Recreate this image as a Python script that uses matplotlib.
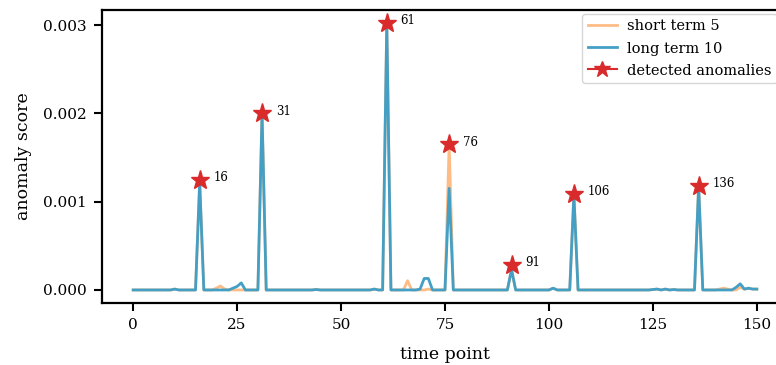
import numpy as np
import matplotlib
matplotlib.use("Agg")
import matplotlib.pyplot as plt
from matplotlib.lines import Line2D

plt.rcParams['font.family'] = ['DejaVu Serif']

# anomaly scores, one value per time point (0..150)
short_term = [
    0, 0, 0, 0, 0, 0, 0, 0, 0, 0,                       # 0-9
    0.00001, 0, 0, 0, 0, 0, 0.00122, 0, 0, 0,           # 10-19
    0.00002, 0.000045, 0.00001, 0, 0, 0, 0, 0, 0, 0,    # 20-29
    0, 0.00200, 0, 0, 0, 0, 0, 0, 0, 0,                 # 30-39
    0, 0, 0, 0, 0.000005, 0, 0, 0, 0, 0,                # 40-49
    0, 0, 0, 0, 0, 0, 0, 0, 0.00001, 0,                 # 50-59
    0, 0.00302, 0, 0, 0, 0, 0.000105, 0, 0, 0,          # 60-69
    0, 0.00001, 0, 0, 0, 0, 0.00165, 0, 0, 0,           # 70-79
    0, 0, 0, 0, 0, 0, 0, 0, 0, 0,                       # 80-89
    0, 0.00023, 0, 0, 0, 0, 0, 0, 0, 0,                 # 90-99
    0, 0.00002, 0, 0, 0, 0, 0.00108, 0, 0, 0,           # 100-109
    0, 0, 0, 0, 0, 0, 0, 0, 0, 0,                       # 110-119
    0, 0, 0, 0, 0, 0.000005, 0.00001, 0, 0.00001, 0,    # 120-129
    0.000005, 0, 0, 0, 0, 0, 0.00118, 0, 0, 0,          # 130-139
    0, 0.00001, 0.00002, 0.00001, 0, 0, 0.00003, 0.00001, 0.00002, 0.00001,  # 140-149
    0.00001,                                            # 150
]

long_term = [
    0, 0, 0, 0, 0, 0, 0, 0, 0, 0,                       # 0-9
    0.00001, 0, 0, 0, 0, 0, 0.00122, 0, 0, 0,           # 10-19
    0, 0, 0, 0, 0.00002, 0.00004, 0.00008, 0, 0, 0,     # 20-29
    0, 0.00200, 0, 0, 0, 0, 0, 0, 0, 0,                 # 30-39
    0, 0, 0, 0, 0.000005, 0, 0, 0, 0, 0,                # 40-49
    0, 0, 0, 0, 0, 0, 0, 0, 0.00001, 0,                 # 50-59
    0, 0.00302, 0, 0, 0, 0, 0, 0, 0, 0.00001,           # 60-69
    0.00013, 0.00013, 0, 0, 0, 0, 0.00115, 0, 0, 0,     # 70-79
    0, 0, 0, 0, 0, 0, 0, 0, 0, 0,                       # 80-89
    0, 0.00023, 0, 0, 0, 0, 0, 0, 0, 0,                 # 90-99
    0, 0.00002, 0, 0, 0, 0, 0.00108, 0, 0, 0,           # 100-109
    0, 0, 0, 0, 0, 0, 0, 0, 0, 0,                       # 110-119
    0, 0, 0, 0, 0, 0.000005, 0.00001, 0, 0.00001, 0,    # 120-129
    0.000005, 0, 0, 0, 0, 0, 0.00118, 0, 0, 0,          # 130-139
    0, 0, 0, 0, 0, 0.00003, 0.00007, 0.00001, 0.00002, 0.00001,  # 140-149
    0.00001,                                            # 150
]

anomaly_idx = [16, 31, 61, 76, 91, 106, 136]
anomaly_val = [0.001245, 0.00200, 0.003023, 0.00165, 0.000285, 0.001087, 0.001178]

t = np.arange(len(long_term))

fig = plt.figure(figsize=(7.76, 3.65), dpi=100)
ax = fig.add_axes([0.1314, 0.170, 0.8841, 0.8026])

ax.plot(t, short_term, color='#fdbc86', lw=2, label='short term 5')
ax.plot(t, long_term, color='#449fc5', lw=2, label='long term 10')
ax.plot(anomaly_idx, anomaly_val, ls='none', marker='*', ms=14,
        color='#d92b2b', zorder=5)
for i, v in zip(anomaly_idx, anomaly_val):
    ax.annotate(str(i), (i, v), xytext=(10, 1.5), textcoords='offset points',
                fontsize=8.5, va='center')

ax.set_xlim(-7.5, 157.5)
ax.set_ylim(-0.000147, 0.00317)
ax.set_yticks([0, 0.001, 0.002, 0.003])
ax.set_yticklabels(['0.000', '0.001', '0.002', '0.003'])
ax.set_xticks([0, 25, 50, 75, 100, 125, 150])
ax.tick_params(labelsize=11, length=6, width=1.5, pad=5, direction='out')
for s in ax.spines.values():
    s.set_linewidth(1.6)

ax.set_xlabel('time point', fontsize=12.5, labelpad=10)
ax.set_ylabel('anomaly score', fontsize=12.5, labelpad=8)

handles = [
    Line2D([], [], color='#fdbc86', lw=2),
    Line2D([], [], color='#449fc5', lw=2),
    Line2D([], [], color='#d92b2b', lw=1.5, marker='*', ms=12),
]
ax.legend(handles, ['short term 5', 'long term 10', 'detected anomalies'],
          loc='upper left', bbox_to_anchor=(0.694, 1.0), fontsize=10.5,
          frameon=True, edgecolor='#cccccc', borderaxespad=0.25,
          handlelength=2.0, labelspacing=0.55, handletextpad=0.7)

fig.savefig('out.png', dpi=100)
